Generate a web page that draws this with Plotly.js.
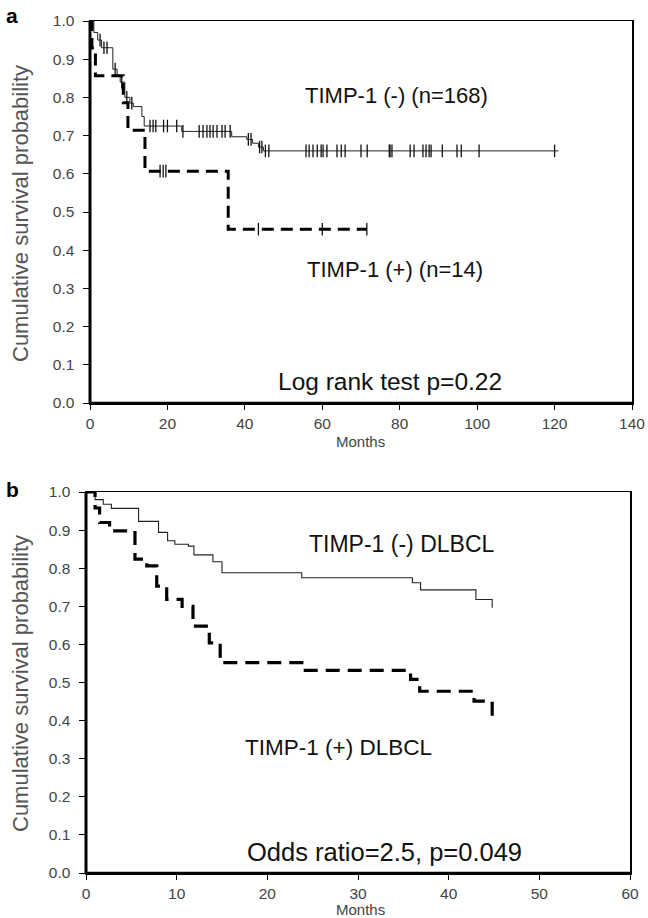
<!DOCTYPE html>
<html>
<head>
<meta charset="utf-8">
<script src="https://cdn.plot.ly/plotly-3.0.1.min.js"></script>
<style>html,body{margin:0;padding:0;background:#fff;}#chart{width:648px;height:918px;}</style>
</head>
<body>
<div id="chart"></div>
<script>
// ---------- Panel a data (months, cumulative survival) ----------
const aNegTime = [0, 1, 2, 3, 5.9, 7, 7.8, 9, 10.3, 11.2, 13.4, 14, 23.7, 36.6, 40.5, 42, 43.5, 44.8, 121];
const aNegSurv = [1, 0.97, 0.95, 0.93, 0.874, 0.858, 0.84, 0.80, 0.785, 0.776, 0.75, 0.725, 0.711, 0.697, 0.69, 0.68, 0.67, 0.66, 0.66];
const aNegCensor = [2.6, 3.6, 4.4, 6.5, 8.2, 9.5, 10.8, 15.5, 16.3, 17, 19, 20, 22.4, 24, 28.2, 29.2, 30.2, 31, 31.8, 32.8, 34.1, 34.9, 36.2, 40.9, 41.6, 43.8, 44.4, 45.3, 46.2, 55.8, 56.6, 57.6, 58.7, 59.7, 60.2, 61.2, 63.8, 64.9, 65.9, 70, 71.6, 77.3, 77.5, 78, 82.7, 83.7, 86, 86.8, 87.6, 88.1, 91, 94.8, 95.9, 100.5, 120];

const aPosTime = [0, 0.5, 1.4, 8.6, 9.8, 14.2, 35.7, 71.5];
const aPosSurv = [1, 0.929, 0.857, 0.786, 0.714, 0.607, 0.455, 0.455];
const aPosCensor = [18.1, 18.9, 19.6, 43.5, 60, 71.5];

// ---------- Panel b data ----------
const bNegTime = [0, 1.0, 1.9, 2.8, 5.8, 8.0, 9.0, 9.8, 11.3, 11.9, 14.0, 15.0, 23.8, 36.0, 36.9, 43.0, 44.8];
const bNegSurv = [1, 0.98, 0.968, 0.957, 0.923, 0.894, 0.872, 0.863, 0.858, 0.835, 0.817, 0.788, 0.775, 0.762, 0.743, 0.718, 0.696];

const bPosTime = [0, 1.0, 1.5, 2.6, 5.4, 6.7, 7.8, 8.9, 10.6, 11.8, 13.6, 14.8, 23.8, 35.8, 36.8, 42.8, 44.2, 44.8];
const bPosSurv = [1, 0.958, 0.92, 0.898, 0.824, 0.806, 0.753, 0.718, 0.70, 0.648, 0.604, 0.552, 0.532, 0.508, 0.477, 0.451, 0.445, 0.411];

const aXTicks = [0, 20, 40, 60, 80, 100, 120, 140];
const bXTicks = [0, 10, 20, 30, 40, 50, 60];
const yTicks = [0, 0.1, 0.2, 0.3, 0.4, 0.5, 0.6, 0.7, 0.8, 0.9, 1.0];

// step-function lookup for censor marks
function survAt(times, surv, t) {
  let s = surv[0];
  for (let i = 0; i < times.length; i++) { if (times[i] <= t) s = surv[i]; }
  return s;
}

const W = 648, H = 918;
const px = v => v / W;
const py = v => 1 - v / H;

const FONT = 'Liberation Sans, Arial, sans-serif';

const traces = [
  {x: aNegTime, y: aNegSurv, xaxis: 'x', yaxis: 'y', mode: 'lines', line: {shape: 'hv', color: '#222', width: 1}, hoverinfo: 'skip'},
  {x: aNegCensor, y: aNegCensor.map(t => survAt(aNegTime, aNegSurv, t)), xaxis: 'x', yaxis: 'y', mode: 'markers',
   marker: {symbol: 'line-ns', size: 9, line: {color: '#111', width: 1.3}}, hoverinfo: 'skip'},
  {x: aPosTime, y: aPosSurv, xaxis: 'x', yaxis: 'y', mode: 'lines', line: {shape: 'hv', color: '#000', width: 3, dash: '12px,7px'}, hoverinfo: 'skip'},
  {x: aPosCensor, y: aPosCensor.map(t => survAt(aPosTime, aPosSurv, t)), xaxis: 'x', yaxis: 'y', mode: 'markers',
   marker: {symbol: 'line-ns', size: 9, line: {color: '#111', width: 1.3}}, hoverinfo: 'skip'},
  {x: bNegTime, y: bNegSurv, xaxis: 'x2', yaxis: 'y2', mode: 'lines', line: {shape: 'hv', color: '#222', width: 1.1}, hoverinfo: 'skip'},
  {x: bPosTime, y: bPosSurv, xaxis: 'x2', yaxis: 'y2', mode: 'lines', line: {shape: 'hv', color: '#000', width: 3.2, dash: '14px,8px'}, hoverinfo: 'skip'}
];

const tickFont = {family: FONT, size: 15.5, color: '#444'};
const titleFont = {family: FONT, size: 15, color: '#444'};

function xAx(domain, range, ticks, anchor) {
  return {domain: domain, range: range, tickvals: ticks, ticktext: ticks.map(String), anchor: anchor,
    ticks: 'outside', ticklen: 5, tickwidth: 1, tickcolor: '#000', showline: true, mirror: true, linecolor: '#000', linewidth: 1.5,
    showgrid: false, zeroline: false, tickfont: tickFont, ticklabelstandoff: 1, fixedrange: true};
}
function yAx(domain, anchor) {
  return {domain: domain, range: [0, 1], tickvals: yTicks, ticktext: yTicks.map(v => v.toFixed(1)), anchor: anchor,
    ticks: 'outside', ticklen: 6, tickwidth: 1, tickcolor: '#000', showline: true, mirror: true, linecolor: '#000', linewidth: 1.5,
    showgrid: false, zeroline: false, tickfont: tickFont, ticklabelstandoff: 5, fixedrange: true};
}

const ann = (text, x, y, size, extra) => Object.assign({text: text, x: px(x), y: py(y), xref: 'paper', yref: 'paper',
  showarrow: false, xanchor: 'center', yanchor: 'middle', font: {family: FONT, size: size, color: '#111'}}, extra || {});

const layout = {
  width: W, height: H, margin: {l: 0, r: 0, t: 0, b: 0}, paper_bgcolor: '#fff', plot_bgcolor: '#fff', showlegend: false,
  xaxis: xAx([px(90), px(632)], [0, 140], aXTicks, 'y'),
  yaxis: yAx([py(403), py(21)], 'x'),
  xaxis2: xAx([px(86), px(630)], [0, 60], bXTicks, 'y2'),
  yaxis2: yAx([py(873), py(492)], 'x2'),
  shapes: [
    {type: 'line', xref: 'x domain', yref: 'y domain', x0: 0, x1: 0, y0: 0, y1: 1, line: {color: '#000', width: 3}},
    {type: 'line', xref: 'x domain', yref: 'y domain', x0: 0, x1: 1, y0: 0, y1: 0, line: {color: '#000', width: 2.5}},
    {type: 'line', xref: 'x2 domain', yref: 'y2 domain', x0: 0, x1: 0, y0: 0, y1: 1, line: {color: '#000', width: 3}},
    {type: 'line', xref: 'x2 domain', yref: 'y2 domain', x0: 0, x1: 1, y0: 0, y1: 0, line: {color: '#000', width: 2.5}}
  ],
  annotations: [
    ann('<b>a</b>', 12, 15, 21, {font: {family: FONT, size: 21, color: '#000'}}),
    ann('<b>b</b>', 12, 489, 21, {font: {family: FONT, size: 21, color: '#000'}}),
    ann('TIMP-1 (-) (n=168)', 396, 96, 22),
    ann('TIMP-1 (+) (n=14)', 395, 269, 22),
    ann('Log rank test p=0.22', 390, 381, 24.5),
    ann('TIMP-1 (-) DLBCL', 402, 544, 23),
    ann('TIMP-1 (+) DLBCL', 338, 747, 22.5),
    ann('Odds ratio=2.5, p=0.049', 384, 852, 25.5),
    ann('Months', 360, 441, 15, {font: titleFont}),
    ann('Months', 360, 909, 15, {font: titleFont}),
    ann('Cumulative survival probability', 20, 214, 22, {font: {family: FONT, size: 22, color: '#555'}, textangle: -90}),
    ann('Cumulative survival probability', 20, 684, 22, {font: {family: FONT, size: 22, color: '#555'}, textangle: -90})
  ]
};

Plotly.newPlot('chart', traces, layout, {staticPlot: true, displayModeBar: false});
</script>
</body>
</html>
